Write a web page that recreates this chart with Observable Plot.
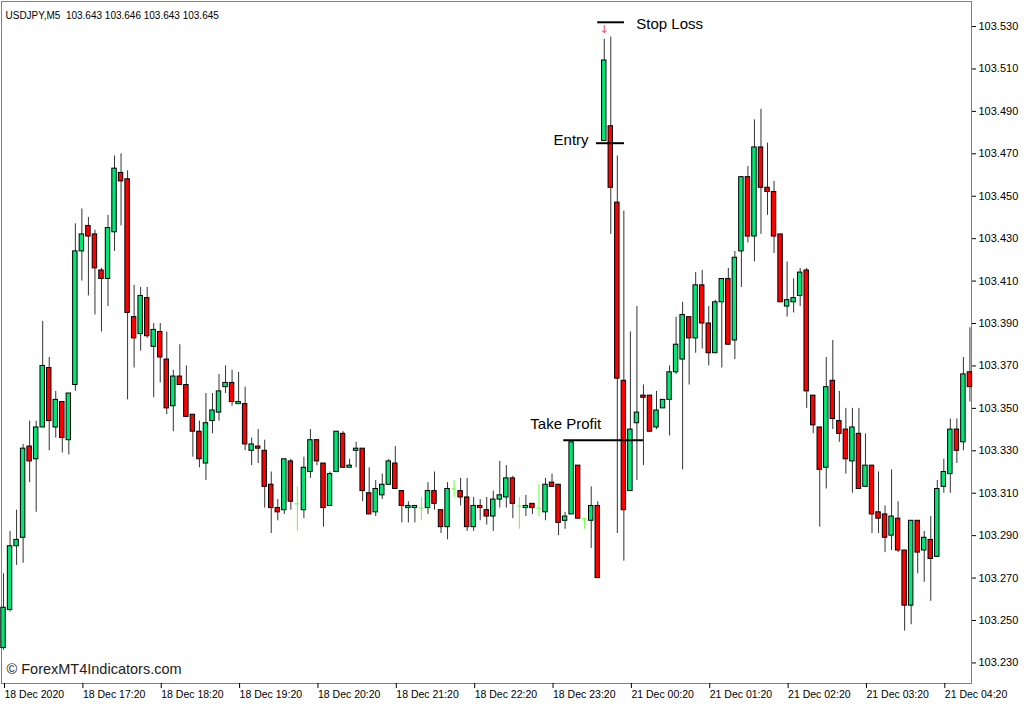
<!DOCTYPE html>
<html><head><meta charset="utf-8">
<script src="https://cdn.jsdelivr.net/npm/d3@7"></script>
<script src="https://cdn.jsdelivr.net/npm/@observablehq/plot@0.6"></script>
<style>
html,body{margin:0;padding:0;background:#fff;}
#chart{width:1024px;height:704px;overflow:hidden;}
</style></head><body><div id="chart"></div>
<script>
// ---- data ----
const headerText = "USDJPY,M5  103.643 103.646 103.643 103.645";
const watermark = "\u00A9 ForexMT4Indicators.com";

const openP = [103.237,103.255,103.285,103.289,103.332,103.326,103.341,103.369,103.341,103.353,
103.335,103.361,103.424,103.436,103.432,103.415,103.411,103.433,103.461,103.458,
103.393,103.385,103.402,103.379,103.386,103.373,103.351,103.365,103.361,103.347,
103.339,103.324,103.344,103.348,103.360,103.362,103.352,103.352,103.330,103.332,
103.330,103.314,103.303,103.302,103.325,103.305,103.302,103.320,103.335,103.324,
103.304,103.320,103.338,103.322,103.330,103.331,103.310,103.301,103.309,103.314,
103.324,103.311,103.303,103.303,103.303,103.303,103.311,103.302,103.294,103.312,
103.311,103.308,103.294,103.304,103.302,103.299,103.307,103.308,103.317,103.304,
103.303,103.305,103.303,103.301,103.315,103.314,103.297,103.300,103.323,103.298,
103.297,103.304,103.476,103.483,103.447,103.363,103.311,103.343,103.356,103.356,
103.341,103.350,103.354,103.367,103.373,103.393,103.383,103.408,103.390,103.376,
103.400,103.411,103.382,103.424,103.459,103.431,103.473,103.454,103.452,103.432,
103.398,103.400,103.403,103.415,103.356,103.341,103.322,103.363,103.344,103.340,
103.325,103.338,103.313,103.323,103.301,103.300,103.290,103.298,103.283,103.257,
103.297,103.283,103.288,103.280,103.313,103.319,103.340,103.334,103.367];

const highP = [103.272,103.292,103.302,103.333,103.344,103.344,103.391,103.374,103.358,103.353,
103.357,103.437,103.444,103.440,103.434,103.416,103.441,103.469,103.470,103.462,
103.408,103.407,103.407,103.390,103.390,103.386,103.368,103.380,103.370,103.347,
103.344,103.357,103.357,103.366,103.370,103.368,103.367,103.360,103.336,103.340,
103.335,103.320,103.307,103.326,103.326,103.313,103.327,103.340,103.335,103.324,
103.320,103.339,103.339,103.326,103.334,103.331,103.322,103.316,103.319,103.326,
103.332,103.311,103.306,103.304,103.308,103.315,103.320,103.302,103.315,103.316,
103.317,103.317,103.308,103.307,103.308,103.311,103.325,103.323,103.318,103.308,
103.309,103.305,103.314,103.317,103.319,103.314,103.301,103.334,103.323,103.298,
103.313,103.306,103.524,103.525,103.469,103.443,103.386,103.398,103.361,103.356,
103.358,103.354,103.370,103.393,103.400,103.393,103.414,103.415,103.398,103.401,
103.411,103.416,103.424,103.459,103.464,103.486,103.491,103.475,103.457,103.432,
103.419,103.411,103.416,103.416,103.356,103.341,103.374,103.382,103.358,103.350,
103.350,103.350,103.338,103.323,103.320,103.304,103.321,103.306,103.283,103.297,
103.297,103.292,103.299,103.316,103.326,103.345,103.345,103.374,103.388];

const lowP = [103.236,103.254,103.276,103.277,103.315,103.301,103.341,103.330,103.336,103.329,
103.328,103.358,103.410,103.403,103.394,103.386,103.398,103.424,103.436,103.354,
103.369,103.377,103.383,103.355,103.362,103.347,103.339,103.361,103.346,103.327,
103.322,103.316,103.338,103.344,103.357,103.351,103.352,103.330,103.323,103.324,
103.303,103.291,103.297,103.300,103.302,103.292,103.298,103.317,103.323,103.294,
103.304,103.320,103.322,103.322,103.322,103.306,103.300,103.299,103.307,103.314,
103.312,103.296,103.296,103.296,103.297,103.300,103.302,103.291,103.288,103.308,
103.304,103.292,103.292,103.297,103.295,103.292,103.303,103.303,103.298,103.293,
103.299,103.300,103.299,103.297,103.313,103.290,103.293,103.300,103.298,103.293,
103.284,103.270,103.476,103.432,103.291,103.278,103.311,103.316,103.323,103.339,
103.340,103.350,103.337,103.366,103.321,103.361,103.376,103.378,103.370,103.376,
103.369,103.380,103.373,103.407,103.428,103.419,103.432,103.441,103.423,103.400,
103.393,103.395,103.398,103.350,103.338,103.294,103.312,103.340,103.334,103.319,
103.310,103.312,103.313,103.291,103.291,103.282,103.283,103.282,103.245,103.248,
103.272,103.268,103.259,103.280,103.310,103.310,103.324,103.330,103.353];

const closeP = [103.256,103.285,103.288,103.331,103.325,103.341,103.370,103.344,103.354,103.336,
103.357,103.424,103.432,103.431,103.416,103.411,103.435,103.463,103.457,103.395,
103.383,103.403,103.384,103.387,103.374,103.350,103.365,103.361,103.346,103.339,
103.326,103.343,103.349,103.358,103.362,103.353,103.353,103.333,103.333,103.331,
103.313,103.303,103.301,103.326,103.306,103.305,103.322,103.335,103.325,103.303,
103.319,103.339,103.322,103.323,103.331,103.311,103.300,103.312,103.314,103.325,
103.312,103.304,103.304,103.304,103.303,103.311,103.305,103.294,103.312,103.312,
103.308,103.294,103.304,103.303,103.299,103.307,103.309,103.317,103.305,103.304,
103.304,103.303,103.303,103.314,103.313,103.296,103.299,103.334,103.298,103.298,
103.304,103.270,103.514,103.454,103.364,103.302,103.340,103.348,103.355,103.339,
103.349,103.354,103.367,103.380,103.394,103.383,103.408,103.390,103.376,103.400,
103.411,103.380,103.421,103.459,103.431,103.473,103.454,103.452,103.431,103.400,
103.401,103.402,103.414,103.358,103.342,103.321,103.360,103.345,103.338,103.326,
103.341,103.312,103.323,103.300,103.298,103.289,103.299,103.283,103.257,103.297,
103.282,103.289,103.279,103.312,103.320,103.340,103.330,103.366,103.360];

const timeLabels = ["18 Dec 2020","18 Dec 17:20","18 Dec 18:20","18 Dec 19:20","18 Dec 20:20",
"18 Dec 21:20","18 Dec 22:20","18 Dec 23:20","21 Dec 00:20","21 Dec 01:20","21 Dec 02:20",
"21 Dec 03:20","21 Dec 04:20"];
const barsPerLabel = 12;

const priceTicks = [103.230,103.250,103.270,103.290,103.310,103.330,103.350,103.370,
103.390,103.410,103.430,103.450,103.470,103.490,103.510,103.530];

const levelNames = ["Stop Loss","Entry","Take Profit"];
const levelPrices = [103.532,103.475,103.335];
const signalBar = 92; // bar with the sell arrow

// ---- layout / style ----
const levelSpans = [[91.0,95.1],[90.8,95.1],[85.8,98.0]];
const bullFill = "#00e676", bearFill = "#ff0000", dojiColor = "#66ff33";
const halfBody = 0.34;

const candles = openP.map((o,i)=>({i, open:o, high:highP[i], low:lowP[i], close:closeP[i]}));
const dojis = candles.filter(d=>d.open===d.close);
const bodies = candles.filter(d=>d.open!==d.close);
const levels = levelNames.map((n,k)=>({name:n, price:levelPrices[k], x1:levelSpans[k][0], x2:levelSpans[k][1]}));

const chart = Plot.plot({
  width:1024, height:704,
  marginTop:1, marginRight:53, marginBottom:21, marginLeft:1,
  x:{domain:[-0.31,148.24], axis:null},
  y:{domain:[103.2203,103.5418], axis:null},
  style:{fontFamily:"'Liberation Sans', Arial, sans-serif", background:"#fff", color:"#000"},
  marks:[
    Plot.frame({stroke:"#808080"}),
    Plot.axisY({anchor:"right", ticks:priceTicks, tickFormat:d=>d.toFixed(3), tickSize:4, tickPadding:3, fontSize:11}),
    Plot.axisX({anchor:"bottom", ticks:timeLabels.map((_,k)=>k*barsPerLabel), tickFormat:d=>timeLabels[d/barsPerLabel],
      textAnchor:"start", tickSize:5, tickPadding:2, fontSize:10.5, dx:1}),
    Plot.ruleX(bodies, {x:"i", y1:"low", y2:"high", stroke:"#333", strokeWidth:1}),
    Plot.ruleX(dojis, {x:"i", y1:"low", y2:"high", stroke:dojiColor, strokeWidth:1}),
    Plot.ruleY(dojis, {y:"open", x1:d=>d.i-halfBody, x2:d=>d.i+halfBody, stroke:dojiColor, strokeWidth:1}),
    Plot.rect(bodies, {x1:d=>d.i-halfBody, x2:d=>d.i+halfBody, y1:"open", y2:"close",
      fill:d=>d.close>d.open?bullFill:bearFill, stroke:"#000", strokeWidth:1}),
    Plot.ruleY(levels, {y:"price", x1:"x1", x2:"x2", stroke:"#000", strokeWidth:2}),
    Plot.text([levels[0]], {x:96.9, y:"price", text:"name", textAnchor:"start", fontSize:15, dy:2}),
    Plot.text([levels[1]], {x:89.6, y:"price", text:"name", textAnchor:"end", fontSize:15, dy:-3}),
    Plot.text([levels[2]], {x:86.1, y:"price", text:"name", textAnchor:"middle", fontSize:15, dy:-16}),
    Plot.text([signalBar], {x:d=>d, y:levelPrices[0], text:()=>"\u2193", fill:"#f07070", fontSize:11,
      fontWeight:"bold", fontFamily:"'DejaVu Sans', sans-serif", dy:7}),
    Plot.text([headerText], {frameAnchor:"top-left", dx:4, dy:10, text:d=>d, fontSize:10, textAnchor:"start"}),
    Plot.text([watermark], {frameAnchor:"bottom-left", dx:5, dy:-10, text:d=>d, fontSize:14.5, textAnchor:"start", fill:"#222"})
  ]
});
document.getElementById("chart").appendChild(chart);
</script></body></html>
